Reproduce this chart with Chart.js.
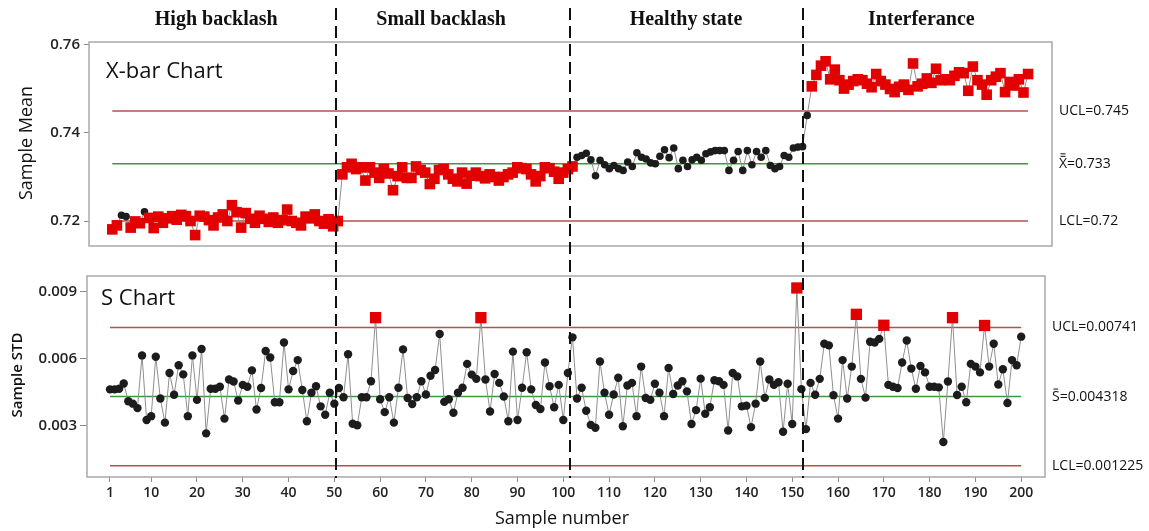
<!DOCTYPE html>
<html>
<head>
<meta charset="utf-8">
<script src="https://cdn.jsdelivr.net/npm/chart.js@4.4.1/dist/chart.umd.min.js"></script>
<style>
    html, body { margin: 0; padding: 0; background: #fff; }
    #wrap { position: relative; width: 1149px; height: 531px; overflow: hidden; }
    .box { position: absolute; left: 0; width: 1149px; }
    #topBox { top: 0; height: 262px; }
    #botBox { top: 262px; height: 269px; }
</style>
</head>
<body>
<div id="wrap">
    <div class="box" id="topBox"><canvas id="xbarChart"></canvas></div>
    <div class="box" id="botBox"><canvas id="sChart"></canvas></div>
</div>
<script>
// sample means (X-bar), samples 1..200
const xbarMeans = [
    // 1-50 high backlash
    0.7181, 0.7190, 0.7213, 0.7210, 0.7185, 0.7199, 0.7195, 0.7221, 0.7207, 0.7184,
    0.7210, 0.7196, 0.7206, 0.7211, 0.7203, 0.7214, 0.7211, 0.7200, 0.7168, 0.7212,
    0.7210, 0.7202, 0.7190, 0.7208, 0.7215, 0.7200, 0.7236, 0.7220, 0.7185, 0.7218,
    0.7205, 0.7196, 0.7212, 0.7205, 0.7198, 0.7208, 0.7196, 0.7202, 0.7226, 0.7200,
    0.7196, 0.7190, 0.7210, 0.7206, 0.7215, 0.7200, 0.7194, 0.7204, 0.7188, 0.7200,
    // 51-101 small backlash
    0.7306, 0.7322, 0.7330, 0.7318, 0.7322, 0.7292, 0.7322, 0.7310, 0.7298, 0.7318,
    0.7308, 0.7270, 0.7302, 0.7322, 0.7298, 0.7298, 0.7324, 0.7316, 0.7310, 0.7284,
    0.7296, 0.7316, 0.7318, 0.7306, 0.7296, 0.7290, 0.7310, 0.7285, 0.7303, 0.7310,
    0.7302, 0.7297, 0.7306, 0.7300, 0.7292, 0.7300, 0.7306, 0.7310, 0.7322, 0.7320,
    0.7318, 0.7306, 0.7290, 0.7302, 0.7322, 0.7320, 0.7312, 0.7296, 0.7310, 0.7318,
    0.7324,
    // 102-152 healthy state
    0.7345, 0.7349, 0.7354, 0.7339, 0.7303, 0.7338, 0.7328, 0.7319, 0.7326, 0.7319,
    0.7315, 0.7334, 0.7324, 0.7355, 0.7345, 0.7341, 0.7332, 0.7330, 0.7347, 0.7362,
    0.7344, 0.7366, 0.7319, 0.7338, 0.7324, 0.7339, 0.7345, 0.7338, 0.7353, 0.7357,
    0.7360, 0.7360, 0.7360, 0.7315, 0.7338, 0.7358, 0.7315, 0.7360, 0.7328, 0.7358,
    0.7345, 0.7360, 0.7326, 0.7319, 0.7324, 0.7349, 0.7345, 0.7366, 0.7368, 0.7369,
    0.7440,
    // 153-200 interferance
    0.7506, 0.7532, 0.7553, 0.7563, 0.7522, 0.7544, 0.7520, 0.7501, 0.7510, 0.7518,
    0.7522, 0.7520, 0.7512, 0.7504, 0.7534, 0.7518, 0.7510, 0.7500, 0.7493, 0.7505,
    0.7510, 0.7498, 0.7558, 0.7506, 0.7512, 0.7524, 0.7514, 0.7546, 0.7520, 0.7522,
    0.7520, 0.7530, 0.7538, 0.7536, 0.7496, 0.7551, 0.7520, 0.7510, 0.7487, 0.7520,
    0.7528, 0.7536, 0.7493, 0.7516, 0.7508, 0.7522, 0.7492, 0.7534
];

// sample standard deviations (S), samples 1..200
const sampleStd = [
    0.00464, 0.00464, 0.00467, 0.00490, 0.00411, 0.00400, 0.00380, 0.00616, 0.00327, 0.00344,
    0.00610, 0.00423, 0.00315, 0.00537, 0.00440, 0.00572, 0.00531, 0.00344, 0.00616, 0.00417,
    0.00645, 0.00267, 0.00467, 0.00467, 0.00476, 0.00333, 0.00508, 0.00499, 0.00414, 0.00484,
    0.00476, 0.00549, 0.00374, 0.00470, 0.00636, 0.00607, 0.00406, 0.00406, 0.00674, 0.00464,
    0.00546, 0.00595, 0.00461, 0.00321, 0.00449, 0.00478, 0.00388, 0.00350, 0.00449, 0.00400,
    0.00470, 0.00429, 0.00621, 0.00310, 0.00303, 0.00429, 0.00429, 0.00500, 0.00785, 0.00420,
    0.00362, 0.00429, 0.00315, 0.00471, 0.00643, 0.00425, 0.00398, 0.00429, 0.00500, 0.00441,
    0.00525, 0.00551, 0.00712, 0.00408, 0.00420, 0.00359, 0.00449, 0.00471, 0.00578, 0.00530,
    0.00511, 0.00785, 0.00508, 0.00365, 0.00533, 0.00493, 0.00432, 0.00321, 0.00633, 0.00327,
    0.00471, 0.00630, 0.00464, 0.00394, 0.00376, 0.00584, 0.00478, 0.00384, 0.00484, 0.00327,
    0.00537, 0.00697, 0.00423, 0.00471, 0.00368, 0.00305, 0.00292, 0.00589, 0.00449, 0.00350,
    0.00441, 0.00516, 0.00299, 0.00481, 0.00493, 0.00344, 0.00566, 0.00425, 0.00417, 0.00489,
    0.00449, 0.00344, 0.00560, 0.00443, 0.00481, 0.00500, 0.00455, 0.00309, 0.00371, 0.00512,
    0.00355, 0.00384, 0.00505, 0.00500, 0.00484, 0.00280, 0.00537, 0.00522, 0.00388, 0.00391,
    0.00295, 0.00400, 0.00589, 0.00426, 0.00508, 0.00484, 0.00496, 0.00274, 0.00489, 0.00309,
    0.00918, 0.00465, 0.00286, 0.00493, 0.00440, 0.00511, 0.00668, 0.00661, 0.00438, 0.00333,
    0.00595, 0.00423, 0.00566, 0.00800, 0.00511, 0.00427, 0.00677, 0.00674, 0.00690, 0.00751,
    0.00484, 0.00476, 0.00470, 0.00584, 0.00683, 0.00557, 0.00467, 0.00569, 0.00540, 0.00476,
    0.00476, 0.00473, 0.00228, 0.00499, 0.00785, 0.00439, 0.00476, 0.00406, 0.00578, 0.00566,
    0.00540, 0.00750, 0.00566, 0.00668, 0.00486, 0.00554, 0.00403, 0.00595, 0.00572, 0.00700
];

// X-bar samples plotted as black (in control) dots, as [from, to] ranges; the rest are red squares
const xbarInControlRanges = [[3, 4], [8, 8], [102, 152]];
// S chart samples flagged red
const sOutOfControl = [59, 82, 151, 164, 170, 185, 192];

const xbarUCL = 0.745, xbarCL = 0.733, xbarLCL = 0.72;
const sUCL = 0.00741, sCL = 0.004318, sLCL = 0.001225;

const xbarTicks = [0.72, 0.74, 0.76];
const sTicks = [0.003, 0.006, 0.009];
const sampleTicks = [1, 10, 20, 30, 40, 50, 60, 70, 80, 90, 100, 110, 120, 130, 140, 150, 160, 170, 180, 190, 200];

const stateNames = ["High backlash", "Small backlash", "Healthy state", "Interferance"];
const stateCenters = [24.2, 73.3, 126.8, 178.2];   // sample number at label centre
const stateBoundaries = [50.4, 101.5, 152.3];       // dashed separators

const SANS = "'Open Sans', 'DejaVu Sans', sans-serif";
const RED = "#e30000";
const DOT = "#1c1c1c";
const LIMIT_RED = "#b5504f";
const CL_GREEN = "#3c9a3c";

let sChart = null;

function xbarIsRed(i) {
    const n = i + 1;
    return !xbarInControlRanges.some(([a, b]) => n >= a && n <= b);
}
function sIsRed(i) {
    return sOutOfControl.includes(i + 1);
}

function limitDataset(value, color) {
    return {
        data: [{ x: 1, y: value }, { x: 200, y: value }],
        borderColor: color,
        borderWidth: 1.5,
        pointRadius: 0,
        pointHoverRadius: 0,
        fill: false
    };
}

// 带上划线的字母（X 双横线 / S 单横线）
function drawBarLetter(ctx, letter, bars, rest, x, y) {
    ctx.fillText(letter, x, y);
    const w = ctx.measureText(letter).width;
    ctx.fillText(rest, x + w, y);
    ctx.save();
    ctx.strokeStyle = "#111";
    ctx.lineWidth = 1;
    for (let b = 0; b < bars; b++) {
        const by = y - 7.5 - b * 2.5;
        ctx.beginPath();
        ctx.moveTo(x + 1.5, by);
        ctx.lineTo(x + w - 1.5, by);
        ctx.stroke();
    }
    ctx.restore();
}

function drawSeparators(chart, yTop, yBottom, dashOffset) {
    const ctx = chart.ctx;
    const xs = sChart ? sChart.scales.x : chart.scales.x;
    ctx.save();
    ctx.strokeStyle = "#111";
    ctx.lineWidth = 2;
    ctx.setLineDash([12, 6]);
    ctx.lineDashOffset = dashOffset;
    stateBoundaries.forEach((v) => {
        const x = Math.round(xs.getPixelForValue(v));
        ctx.beginPath();
        ctx.moveTo(x, yTop);
        ctx.lineTo(x, yBottom);
        ctx.stroke();
    });
    ctx.restore();
}

function drawFrame(chart) {
    const { ctx, chartArea } = chart;
    ctx.save();
    ctx.strokeStyle = "#a9a9a9";
    ctx.lineWidth = 1.5;
    ctx.strokeRect(chartArea.left, chartArea.top, chartArea.right - chartArea.left, chartArea.bottom - chartArea.top);
    ctx.restore();
}

// 上图装饰：边框、标题、控制限文字、状态标签、分隔虚线
const xbarDecor = {
    id: "xbarDecor",
    beforeDatasetsDraw(chart) {
        drawFrame(chart);
    },
    afterDatasetsDraw(chart) {
        const { ctx, chartArea, scales } = chart;
        ctx.save();
        ctx.fillStyle = "#111";
        ctx.textBaseline = "middle";

        ctx.font = "22px " + SANS;
        ctx.textAlign = "left";
        ctx.fillText("X-bar Chart", chartArea.left + 17, 72);

        ctx.font = "14px " + SANS;
        const lx = chartArea.right + 7;
        ctx.fillText("UCL=" + xbarUCL, lx, scales.y.getPixelForValue(xbarUCL));
        drawBarLetter(ctx, "X", 2, "=" + xbarCL, lx, scales.y.getPixelForValue(xbarCL));
        ctx.fillText("LCL=" + xbarLCL, lx, scales.y.getPixelForValue(xbarLCL));

        ctx.font = "bold 20px 'Liberation Serif', 'Times New Roman', serif";
        ctx.textAlign = "center";
        const xs = sChart ? sChart.scales.x : scales.x;
        stateNames.forEach((name, k) => {
            ctx.fillText(name, xs.getPixelForValue(stateCenters[k]), 20);
        });

        ctx.font = "18px " + SANS;
        ctx.translate(27, 143);
        ctx.rotate(-Math.PI / 2);
        ctx.fillText("Sample Mean", 0, 0);
        ctx.restore();

        drawSeparators(chart, 8, chart.height, 0);
    }
};

// 下图装饰
const sDecor = {
    id: "sDecor",
    beforeDatasetsDraw(chart) {
        drawFrame(chart);
    },
    afterDatasetsDraw(chart) {
        const { ctx, chartArea, scales } = chart;
        ctx.save();
        ctx.fillStyle = "#111";
        ctx.textBaseline = "middle";

        ctx.font = "22px " + SANS;
        ctx.textAlign = "left";
        ctx.fillText("S Chart", chartArea.left + 14, 37);

        ctx.font = "14px " + SANS;
        const lx = chartArea.right + 7;
        ctx.fillText("UCL=" + sUCL, lx, scales.y.getPixelForValue(sUCL));
        drawBarLetter(ctx, "S", 1, "=" + sCL, lx, scales.y.getPixelForValue(sCL));
        ctx.fillText("LCL=" + sLCL, lx, scales.y.getPixelForValue(sLCL));

        ctx.textAlign = "center";
        ctx.font = "18px " + SANS;
        ctx.fillText("Sample number", 562, 257);

        ctx.font = "600 15px " + SANS;
        ctx.translate(18, 113);
        ctx.rotate(-Math.PI / 2);
        ctx.fillText("Sample STD", 0, 0);
        ctx.restore();

        drawSeparators(chart, 0, chartArea.bottom + 1, 2);
    }
};

function pointsOf(values) {
    return values.map((v, i) => ({ x: i + 1, y: v }));
}

document.addEventListener("DOMContentLoaded", () => {
    /* ========== S chart（先建，虚线位置以它的 x 轴为准） ========== */
    sChart = new Chart(document.getElementById("sChart").getContext("2d"), {
        type: "line",
        data: {
            datasets: [
                {
                    data: pointsOf(sampleStd),
                    borderColor: "#8f8f8f",
                    borderWidth: 1,
                    tension: 0,
                    fill: false,
                    pointStyle: (c) => (sIsRed(c.dataIndex) ? "rect" : "circle"),
                    pointRadius: (c) => (sIsRed(c.dataIndex) ? 8 : 4.2),
                    pointHoverRadius: (c) => (sIsRed(c.dataIndex) ? 8 : 4.2),
                    pointBackgroundColor: (c) => (sIsRed(c.dataIndex) ? RED : DOT),
                    pointBorderWidth: 0
                },
                limitDataset(sUCL, LIMIT_RED),
                limitDataset(sCL, CL_GREEN),
                limitDataset(sLCL, LIMIT_RED)
            ]
        },
        options: {
            responsive: true,
            maintainAspectRatio: false,
            animation: false,
            layout: { padding: { top: 14, right: 104, bottom: 0, left: 0 } },
            scales: {
                x: {
                    type: "linear",
                    min: -4.02,
                    max: 205.2,
                    afterBuildTicks: (scale) => { scale.ticks = sampleTicks.map((v) => ({ value: v })); },
                    afterFit: (scale) => { scale.height = 54; },
                    ticks: {
                        autoSkip: false,
                        maxRotation: 0,
                        padding: 3,
                        color: "#222",
                        font: { family: SANS, size: 14, weight: "600" }
                    },
                    grid: { drawOnChartArea: false, tickLength: 5, color: "#8a8a8a" },
                    border: { display: false }
                },
                y: {
                    min: 0.000716,
                    max: 0.009716,
                    afterBuildTicks: (scale) => { scale.ticks = sTicks.map((v) => ({ value: v })); },
                    afterFit: (scale) => { scale.width = 87; },
                    ticks: {
                        padding: 3,
                        color: "#222",
                        font: { family: SANS, size: 15, weight: "600" },
                        callback: (v) => Number(v).toFixed(3)
                    },
                    grid: { drawOnChartArea: false, tickLength: 7, color: "#8a8a8a" },
                    border: { display: false }
                }
            },
            plugins: {
                legend: { display: false },
                tooltip: { enabled: false }
            }
        },
        plugins: [sDecor]
    });

    /* ========== X-bar chart ========== */
    new Chart(document.getElementById("xbarChart").getContext("2d"), {
        type: "line",
        data: {
            datasets: [
                {
                    data: pointsOf(xbarMeans),
                    borderColor: "#8f8f8f",
                    borderWidth: 1,
                    tension: 0,
                    fill: false,
                    pointStyle: (c) => (xbarIsRed(c.dataIndex) ? "rect" : "circle"),
                    pointRadius: (c) => (xbarIsRed(c.dataIndex) ? 7.5 : 3.8),
                    pointHoverRadius: (c) => (xbarIsRed(c.dataIndex) ? 7.5 : 3.8),
                    pointBackgroundColor: (c) => (xbarIsRed(c.dataIndex) ? RED : DOT),
                    pointBorderWidth: 0
                },
                limitDataset(xbarUCL, LIMIT_RED),
                limitDataset(xbarCL, CL_GREEN),
                limitDataset(xbarLCL, LIMIT_RED)
            ]
        },
        options: {
            responsive: true,
            maintainAspectRatio: false,
            animation: false,
            layout: { padding: { top: 42, right: 97, bottom: 16, left: 0 } },
            scales: {
                x: {
                    type: "linear",
                    min: -4.06,
                    max: 205.2,
                    display: false
                },
                y: {
                    min: 0.71432,
                    max: 0.76068,
                    afterBuildTicks: (scale) => { scale.ticks = xbarTicks.map((v) => ({ value: v })); },
                    afterFit: (scale) => { scale.width = 89; },
                    ticks: {
                        padding: 4,
                        color: "#222",
                        font: { family: SANS, size: 15, weight: "600" },
                        callback: (v) => Number(v).toFixed(2)
                    },
                    grid: { drawOnChartArea: false, tickLength: 5, color: "#8a8a8a" },
                    border: { display: false }
                }
            },
            plugins: {
                legend: { display: false },
                tooltip: { enabled: false }
            }
        },
        plugins: [xbarDecor]
    });
});
</script>
</body>
</html>
